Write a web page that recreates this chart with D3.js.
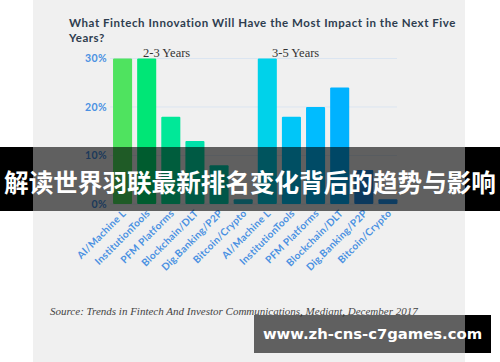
<!DOCTYPE html>
<html><head><meta charset="utf-8">
<script src="https://cdn.jsdelivr.net/npm/d3@7"></script>
<style>html,body{margin:0;padding:0;background:#fff;}svg{display:block;}</style>
</head><body>
<script>
const categories = ["AI/Machine L","InstitutionTools","PFM Platforms","Blockchain/DLT","Dig.Banking/P2P","Bitcoin/Crypto"];
const groups = ["2-3 Years","3-5 Years"];
const values23 = [30,30,18,13,8,1];
const values35 = [30,18,20,24,7,1];
const colors23 = ["#4fe35f","#00e676","#00e898","#00e0aa","#00d8b4","#1cc4d8"];
const colors35 = ["#00d2ea","#00c6f8","#00bcff","#00b2ff","#1e90e8","#2196f3"];
const yTicks = [0,10,20,30];
const titleLines = ["What Fintech Innovation Will Have the Most Impact in the Next Five","Years?"];
const sourceText = "Source: Trends in Fintech And Investor Communications, Mediant, December 2017";
const bannerText = "解读世界羽联最新排名变化背后的趋势与影响";
const watermark = "www.zh-cns-c7games.com";

const W=500,H=362;
const cardX=33, cardW=432;
const svg=d3.select("body").append("svg").attr("width",W).attr("height",H);
svg.append("rect").attr("width",W).attr("height",H).attr("fill","#fff");
svg.append("rect").attr("x",cardX).attr("y",0).attr("width",cardW).attr("height",H).attr("fill","#f0f0f0");

const bars=[];
groups.forEach((g,gi)=>{
  const vals = gi===0?values23:values35, cols = gi===0?colors23:colors35;
  categories.forEach((c,ci)=>bars.push({key:gi+"-"+ci,label:c,value:vals[ci],color:cols[ci]}));
});
const x=d3.scaleBand().domain(bars.map(d=>d.key)).range([110.5,400]).paddingInner(0.21).paddingOuter(0.105);
const y=d3.scaleLinear().domain([0,30]).range([204,58.5]);

// title
svg.append("g").selectAll("text").data(titleLines).join("text")
  .attr("x",69).attr("y",(d,i)=>27+i*15)
  .attr("font-family","Lato").attr("font-weight",700).attr("font-size",11.5)
  .attr("letter-spacing",0.55).attr("fill","#2e3d4f").text(d=>d);

// gridlines
svg.append("g").selectAll("line").data(yTicks).join("line")
  .attr("x1",110).attr("x2",397).attr("y1",d=>y(d)).attr("y2",d=>y(d))
  .attr("stroke","#dbe5f1").attr("stroke-width",1);

// y axis labels
const yAxis=d3.axisLeft(y).tickValues(yTicks).tickFormat(d=>d+"%").tickSize(0).tickPadding(0);
const yg=svg.append("g").attr("transform","translate(107,0)").call(yAxis);
yg.select(".domain").remove();
yg.selectAll("text").attr("font-family","Lato").attr("font-weight",700).attr("font-size",10.5)
  .attr("letter-spacing",0.4).attr("fill","#4a90e2");

// bars
svg.append("g").selectAll("rect").data(bars).join("rect")
  .attr("x",d=>x(d.key)).attr("width",x.bandwidth())
  .attr("y",d=>y(d.value)).attr("height",d=>y(0)-y(d.value))
  .attr("rx",1).attr("fill",d=>d.color);

// group labels
const groupX=[143,272];
svg.append("g").selectAll("text").data(groups).join("text")
  .attr("x",(d,i)=>groupX[i]).attr("y",57)
  .attr("font-family","Liberation Serif").attr("font-size",12.5).attr("fill","#333").text(d=>d);

// x axis labels
const xAxis=d3.axisBottom(x).tickFormat(k=>bars.find(b=>b.key===k).label).tickSize(0).tickPadding(0);
const xg=svg.append("g").attr("transform","translate(0,214)").call(xAxis);
xg.select(".domain").remove();
xg.selectAll("text").attr("text-anchor","end").attr("dy",0)
  .attr("transform","translate(4,0) rotate(-45)")
  .attr("font-family","Lato").attr("font-weight",700).attr("font-size",10)
  .attr("letter-spacing",0.3).attr("fill","#4a90e2");

// source
svg.append("text").attr("x",50).attr("y",315).attr("font-family","Liberation Serif")
  .attr("font-style","italic").attr("font-size",11).attr("fill","#444").text(sourceText);

// banner overlay
const bY=147, bH=64;
svg.append("rect").attr("x",0).attr("y",bY).attr("width",cardX).attr("height",bH).attr("fill","#000");
svg.append("rect").attr("x",cardX+cardW).attr("y",bY).attr("width",W-cardX-cardW).attr("height",bH).attr("fill","#000");
svg.append("rect").attr("x",cardX).attr("y",bY).attr("width",cardW).attr("height",bH).attr("fill","#000").attr("fill-opacity",0.6);
svg.append("text").attr("x",W/2).attr("y",183).attr("dy","0.36em").attr("text-anchor","middle")
  .attr("font-family","Noto Sans CJK SC").attr("font-weight",700).attr("font-size",24.6)
  .attr("fill","#fff").text(bannerText);

// watermark
const wX=254, wY=315, wW=237, wH=38;
svg.append("rect").attr("x",cardX+cardW).attr("y",wY).attr("width",wX+wW-cardX-cardW).attr("height",wH).attr("fill","#000");
svg.append("rect").attr("x",wX).attr("y",wY).attr("width",cardX+cardW-wX).attr("height",wH).attr("fill","#000").attr("fill-opacity",0.6);
svg.append("text").attr("x",wX+wW/2).attr("y",wY+wH/2).attr("dy","0.36em").attr("text-anchor","middle")
  .attr("font-family","DejaVu Sans").attr("font-weight",700).attr("font-size",14.8)
  .attr("fill","#fff").text(watermark);
</script>
</body></html>
